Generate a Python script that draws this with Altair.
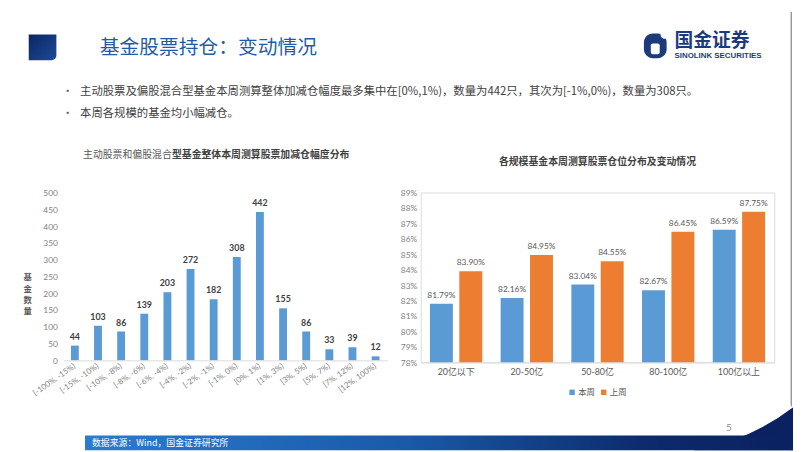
import altair as alt
import pandas as pd

# ---------------- data ----------------
bins = ["[-100%, -15%)", "[-15%, -10%)", "[-10%, -8%)", "[-8%, -6%)", "[-6%, -4%)",
        "[-4%, -2%)", "[-2%, -1%)", "[-1%, 0%)", "[0%, 1%)", "[1%, 3%)",
        "[3%, 5%)", "[5%, 7%)", "[7%, 12%)", "[12%, 100%)"]
fund_counts = [44, 103, 86, 139, 203, 272, 182, 308, 442, 155, 86, 33, 39, 12]
left_ticks = [0, 50, 100, 150, 200, 250, 300, 350, 400, 450, 500]

size_groups = ["20亿以下", "20-50亿", "50-80亿", "80-100亿", "100亿以上"]
series_names = ["本周", "上周"]
this_week = [81.79, 82.16, 83.04, 82.67, 86.59]
last_week = [83.90, 84.95, 84.55, 86.45, 87.75]
right_ticks = [78, 79, 80, 81, 82, 83, 84, 85, 86, 87, 88, 89]

page_title = "基金股票持仓：变动情况"
bullet_1 = "主动股票及偏股混合型基金本周测算整体加减仓幅度最多集中在[0%,1%)，数量为442只，其次为[-1%,0%)，数量为308只。"
bullet_2 = "本周各规模的基金均小幅减仓。"
left_title_a = "主动股票和偏股混合"
left_title_b = "型基金整体本周测算股票加减仓幅度分布"
left_ytitle = ["基", "金", "数", "量"]
right_title = "各规模基金本周测算股票仓位分布及变动情况"
source_text = "数据来源：Wind，国金证券研究所"

df_left = pd.DataFrame({"bin": bins, "count": fund_counts})
rows = []
for g, a, b in zip(size_groups, this_week, last_week):
    rows.append({"group": g, "series": series_names[0], "value": a})
    rows.append({"group": g, "series": series_names[1], "value": b})
df_right = pd.DataFrame(rows)

# ---------------- styling ----------------
CJK = "Noto Sans CJK SC"
NUM = "Lato, Noto Sans CJK SC"
BLUE = "#5b9bd5"
ORANGE = "#ed7d31"
NAVY = "#0b2160"

OX, OY = 63, 191          # page position of the left plot area
def px(x): return x - OX
def py(y): return y - OY

ONE = alt.Data(values=[{}])

def rect(x1, y1, x2, y2, **kw):
    return alt.Chart(ONE).mark_rect(**kw).encode(
        x=alt.value(px(x1)), x2=alt.value(px(x2)),
        y=alt.value(py(y1)), y2=alt.value(py(y2)))

def text(x, y, s, **kw):
    opts = dict(font=CJK, align="left", baseline="middle")
    opts.update(kw)
    return alt.Chart(ONE).mark_text(text=s, **opts).encode(
        x=alt.value(px(x)), y=alt.value(py(y)))

header_grad = alt.LinearGradient(
    gradient="linear", x1=0, y1=0, x2=1, y2=1,
    stops=[alt.GradientStop(color="#0a2560", offset=0),
           alt.GradientStop(color="#1d4c98", offset=1)])
band_grad = alt.LinearGradient(
    gradient="linear", x1=0, y1=0, x2=1, y2=0,
    stops=[alt.GradientStop(color="#2b7bd0", offset=0),
           alt.GradientStop(color="#1a5aa8", offset=0.45),
           alt.GradientStop(color="#0c2a6c", offset=0.8),
           alt.GradientStop(color=NAVY, offset=1)])

bg = rect(8, 8, 802, 452, fill="white")
border = rect(799.5, 8, 801, 452, color="#9a9a9a")
corner = rect(702, 409, 802, 452, color=NAVY)
wedge = alt.Chart(ONE).mark_arc(color="white").encode(
    x=alt.value(px(665)), y=alt.value(py(230)),
    theta=alt.value(2.49), theta2=alt.value(2.975), radius=alt.value(225))
band = rect(85, 437, 802, 452, color=band_grad)
band_txt = text(92, 445, source_text, fontSize=9, color="white")
page_no = text(737, 430, "5", font=NUM, fontSize=10, color="#8c8c8c", align="center")

head_sq = rect(28, 31, 56, 57, color=header_grad, cornerRadiusBottomRight=5)
head_title = text(100, 45, page_title, fontSize=20, color="#1f5ca8")

logo_shape = rect(651, 30, 674, 55, color="#1b3b7d", cornerRadius=9)
logo_bite = alt.Chart(ONE).mark_circle(color="white", opacity=1, size=70).encode(
    x=alt.value(px(672)), y=alt.value(py(31)))
logo_inner = rect(658, 40, 667, 51, color="white", cornerRadius=2)
logo_cn = text(682, 38, "国金证券", fontSize=19, fontWeight="bold", color="#1b3b7d")
logo_en = text(682, 53, "SINOLINK SECURITIES", font="Liberation Sans", fontSize=8,
               fontWeight="bold", color="#1b3b7d")

dot1 = text(62, 89, "•", fontSize=11, color="#595959")
line1 = text(80, 89, bullet_1, fontSize=11.5, color="#404040")
dot2 = text(62, 112, "•", fontSize=11, color="#595959")
line2 = text(80, 112, bullet_2, fontSize=11.5, color="#404040")

lt_a = text(83, 153, left_title_a, fontSize=10, color="#595959")
lt_b = text(173, 153, left_title_b, fontSize=10, fontWeight="bold", color="#404040")
ytitle = text(27, 277, left_ytitle, fontSize=8.5, fontWeight="bold", color="#595959",
              align="center", lineHeight=11.5)

# ---------------- left chart ----------------
xl = alt.X("bin:N", sort=bins,
           scale=alt.Scale(paddingInner=0.66, paddingOuter=0.33),
           axis=alt.Axis(title=None, labelAngle=-35, labelAlign="right",
                         labelBaseline="middle", labelFontSize=8, labelFont=NUM,
                         labelColor="#7f7f7f", domainColor="#d9d9d9", ticks=False,
                         labelPadding=5, zindex=2))
yl = alt.Y("count:Q", scale=alt.Scale(domain=[0, 500], nice=False),
           axis=alt.Axis(title=None, values=left_ticks, grid=False, domain=False,
                         ticks=False, labelPadding=6, labelFontSize=8.5, labelFont=NUM,
                         labelColor="#7f7f7f", zindex=2))
bars_l = alt.Chart(df_left).mark_bar(color=BLUE).encode(x=xl, y=yl)
labels_l = alt.Chart(df_left).mark_text(
    dy=-9, fontSize=9, fontWeight="bold", color="#404040", font=NUM,
    baseline="middle").encode(x=xl, y=yl, text="count:Q")

left = alt.layer(
    bg, border, corner, wedge, band, band_txt, page_no,
    head_sq, head_title, logo_shape, logo_bite, logo_inner, logo_cn, logo_en,
    dot1, line1, dot2, line2, lt_a, lt_b, ytitle,
    bars_l, labels_l
).properties(width=328, height=170)

# ---------------- right chart ----------------
xr = alt.X("group:N", sort=size_groups,
           scale=alt.Scale(paddingInner=0.26, paddingOuter=0.13),
           axis=alt.Axis(title=None, labelAngle=0, labelFontSize=9, labelFont=NUM,
                         labelColor="#595959", domainColor="#d9d9d9", ticks=False,
                         labelPadding=5))
xo = alt.XOffset("series:N", sort=series_names,
                 scale=alt.Scale(paddingInner=0.22, paddingOuter=0))
yr = alt.Y("value:Q", scale=alt.Scale(domain=[78, 89], zero=False, nice=False),
           axis=alt.Axis(title=None, values=right_ticks, labelExpr="datum.value + '%'",
                         grid=False, domain=False, ticks=False, labelPadding=4,
                         labelFontSize=8.5, labelFont=NUM, labelColor="#7f7f7f"))
col = alt.Color("series:N", sort=series_names,
                scale=alt.Scale(domain=series_names, range=[BLUE, ORANGE]),
                legend=alt.Legend(title=None, orient="none", legendX=511, legendY=198,
                                  direction="horizontal", symbolType="square",
                                  symbolSize=30, symbolStrokeWidth=0,
                                  labelFontSize=8.5, labelFont=CJK, labelColor="#595959",
                                  columnPadding=4, labelOffset=2))
bars_r = alt.Chart(df_right).mark_bar().encode(
    x=xr, xOffset=xo, y=yr, y2=alt.datum(78), color=col)
labels_r = alt.Chart(df_right).transform_calculate(
    lab="format(datum.value, '.2f') + '%'"
).mark_text(dy=-9, fontSize=8.5, color="#595959", font=NUM, baseline="middle").encode(
    x=xr, xOffset=xo, y=yr, text="lab:N")
title_r = alt.Chart(ONE).mark_text(
    text=right_title, font=CJK, fontSize=10, fontWeight="bold", color="#404040",
    align="center", baseline="middle").encode(x=alt.value(179), y=alt.value(-31))

right = alt.layer(title_r, bars_r, labels_r).properties(width=358, height=172)

chart = alt.hconcat(left, right, spacing=34, bounds="flush").properties(
    padding=0
).configure_view(stroke=None).configure(background="white")

chart.save("out.html", embed_options={"renderer": "svg", "actions": False})
